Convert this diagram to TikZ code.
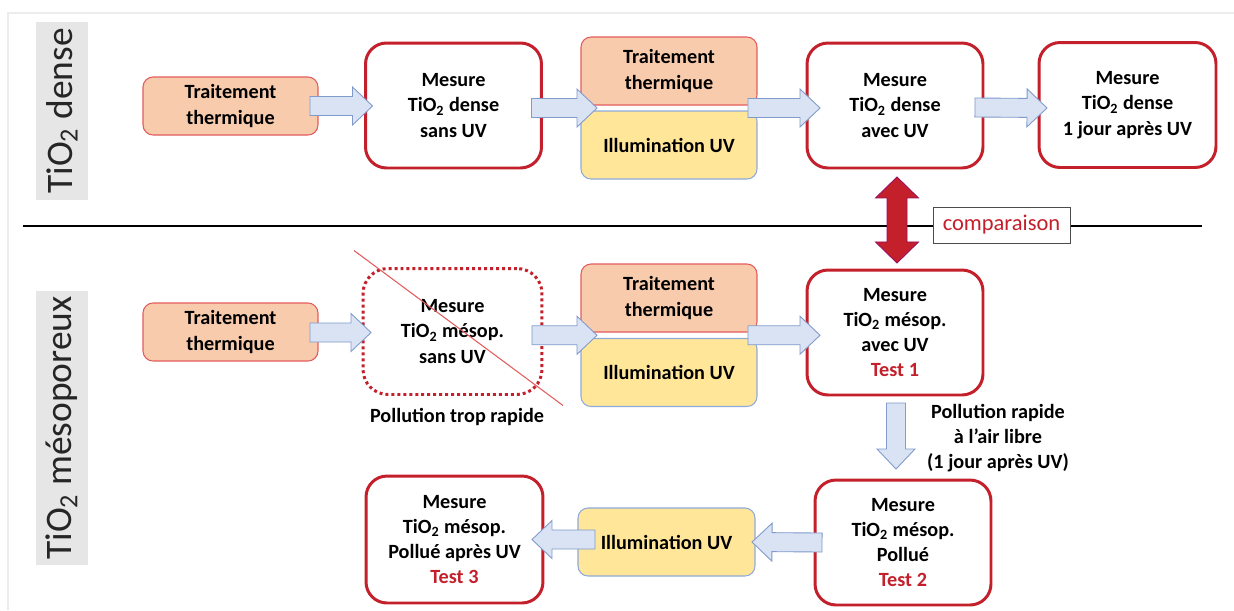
\documentclass[tikz,border=0pt]{standalone}
\usepackage{fontspec}
\setmainfont{Carlito}
\usetikzlibrary{calc, positioning}
\definecolor{mesurered}{HTML}{C3202B}
\definecolor{thermorange}{HTML}{F8CBAD}
\definecolor{thermborder}{HTML}{E35B5B}
\definecolor{uvyellow}{HTML}{FFE699}
\definecolor{uvborder}{HTML}{8FAADC}
\definecolor{flechefill}{HTML}{DAE3F3}
\definecolor{flecheborder}{HTML}{7F9ACB}
\definecolor{labelgray}{HTML}{E7E6E6}
\newcommand{\tio}{TiO\textsubscript{2}}
\newcommand{\boldtxt}{\fontsize{11.5}{14.4}\selectfont\bfseries}
% fleche pleine : #1 depart, #2 pointe
\newcommand{\fleche}[2]{%
  \path (#1) coordinate (fl-a) (#2) coordinate (fl-b);
  \path ($(fl-b)!0.4cm!(fl-a)$) coordinate (fl-h);
  \draw[fleche] ($(fl-a)!0.19cm!90:(fl-b)$) -- ($(fl-h)!0.19cm!90:(fl-b)$) -- ($(fl-h)!0.38cm!90:(fl-b)$) -- (fl-b)
    -- ($(fl-h)!0.38cm!-90:(fl-b)$) -- ($(fl-h)!0.19cm!-90:(fl-b)$) -- ($(fl-a)!0.19cm!-90:(fl-b)$) -- cycle;
}

\begin{document}
\begin{tikzpicture}[x=0.02cm, y=-0.02cm,
    mesure/.style={draw=mesurered, line width=1.7pt, rounded corners=0.42cm, fill=white, minimum width=3.52cm, minimum height=2.5cm, align=center, font=\boldtxt, outer sep=0pt},
    perdu/.style={draw=mesurered, line width=1.7pt, dash pattern=on 1.7pt off 1.7pt, rounded corners=0.5cm, minimum width=3.58cm, minimum height=2.52cm, align=center, font=\boldtxt, outer sep=0pt},
    thermo/.style={draw=thermborder, line width=0.6pt, fill=thermorange, rounded corners=0.2cm, minimum width=3.52cm, minimum height=1.36cm, align=center, font=\boldtxt, outer sep=0pt},
    uv/.style={draw=uvborder, line width=0.6pt, fill=uvyellow, rounded corners=0.2cm, minimum width=3.52cm, minimum height=1.36cm, align=center, font=\boldtxt, outer sep=0pt},
    fleche/.style={draw=flecheborder, line width=0.5pt, fill=flechefill, line join=miter},
    cote/.style={fill=labelgray, rotate=90, minimum width=3.56cm, minimum height=1.04cm, inner sep=0pt, font=\fontsize{21.3}{25}\selectfont, text=black!85},
    test/.style={text=mesurered}]
  \useasboundingbox (0,0) rectangle (1234,610);
  % cadre
  \draw[gray!15, line width=1.2pt] (8,610) -- (8,13) -- (1234,13);
  % etiquettes laterales
  \node[cote] (dense) at (62,111) {\tio{} dense};
  \node[cote, minimum width=5.48cm] (meso) at (62,428) {\tio{} mésoporeux};
  % separation
  \draw[line width=1.4pt] (23,226) -- (1202,226);

  % TiO2 dense
  \node[thermo, minimum width=3.5cm, minimum height=1.16cm] (tt1) at (230.5,106) {Traitement\\thermique};
  \node[mesure] (m1) at (453.5,105.5) {Mesure\\\tio{} dense\\sans UV};
  \node[thermo] (tt2) at (669,71) {Traitement\\thermique};
  \node[uv] (uv2) at (669,145) {Illumination UV};
  \node[mesure] (m2) at (895,105.5) {Mesure\\\tio{} dense\\avec UV};
  \node[mesure, minimum width=3.54cm] (m3) at (1127.5,105) {Mesure\\\tio{} dense\\1 jour après UV};
  \coordinate (g2) at ($(tt2.south west)!0.5!(uv2.north west)$);
  \fleche{$(tt1.east)+(-8,0)$}{$(m1.west |- tt1)+(7,0)$}
  \fleche{$(m1.east |- g2)+(-10,0)$}{$(g2)+(16,0)$}
  \fleche{$(g2 -| tt2.east)+(-9,0)$}{$(g2 -| m2.west)+(13,0)$}
  \fleche{$(m2.east)+(-8,2)$}{$(m3.west)+(8,3)$}

  % TiO2 mesoporeux
  \node[thermo, minimum width=3.5cm, minimum height=1.16cm] (tt3) at (230.5,332) {Traitement\\thermique};
  \node[perdu] (m4) at (452.5,331.5) {Mesure\\\tio{} mésop.\\sans UV};
  \draw[thermborder, line width=0.6pt] ($(m4.north west)+(-9,-18)$) -- ($(m4.south east)+(21,11)$);
  \node[font=\boldtxt] (trop) at (457,417) {Pollution trop rapide};
  \node[thermo] (tt4) at (669,298) {Traitement\\thermique};
  \node[uv] (uv4) at (669,372.5) {Illumination UV};
  \node[mesure] (m5) at (895,332.5) {Mesure\\\tio{} mésop.\\avec UV\\{\color{mesurered}Test 1}};
  \coordinate (g4) at ($(tt4.south west)!0.5!(uv4.north west)$);
  \fleche{$(tt3.east |- m4)+(-8,1)$}{$(m4.west)+(8,1)$}
  \fleche{$(m4.east |- g4)+(-10,0)$}{$(g4)+(16,0)$}
  \fleche{$(g4 -| tt4.east)+(-9,0)$}{$(g4 -| m5.west)+(13,0)$}

  % pollution a l'air libre
  \node[mesure] (m6) at (903,542.5) {Mesure\\\tio{} mésop.\\Pollué\\{\color{mesurered}Test 2}};
  \node[font=\boldtxt, align=center] (air) at (998,438) {Pollution rapide\\à l’air libre\\(1 jour après UV)};
  \fleche{$(m5.south)+(1,8)$}{$(m6.north -| m5.south)+(1,-11)$}
  \node[uv, minimum width=3.54cm] (uv6) at (666.5,542) {Illumination UV};
  \node[mesure, minimum width=3.54cm, minimum height=2.54cm] (m7) at (454.5,539.5) {Mesure\\\tio{} mésop.\\Pollué après UV\\{\color{mesurered}Test 3}};
  \fleche{$(m6.west)+(7,0)$}{$(uv6.east)+(-3,0)$}
  \fleche{$(uv6.west |- m7)+(17,0)$}{$(m7.east)+(-11,0)$}

  % comparaison
  \draw[fill=mesurered, draw=violet!60!mesurered, line width=0.5pt, line join=miter]
    ($(m2.south)+(2,9)$) -- ++(21.5,21) -- ++(-11.5,0) -- ++(0,44) -- ++(11.5,0) -- ++(-21.5,21)
    -- ++(-21.5,-21) -- ++(11.5,0) -- ++(0,-44) -- ++(-11.5,0) -- cycle;
  \node[draw=black!70, fill=white, text=mesurered, font=\fontsize{12.8}{15}\selectfont, minimum width=2.74cm, minimum height=0.72cm, inner sep=0pt] (cmp) at (1001.5,225) {comparaison};
\end{tikzpicture}
\end{document}
